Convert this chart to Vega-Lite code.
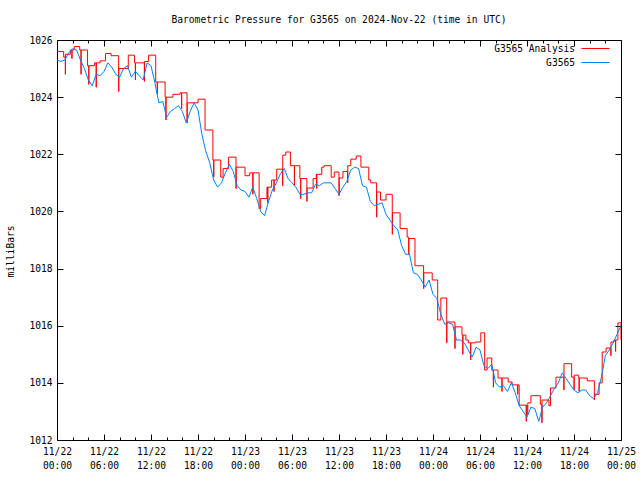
{
  "$schema": "https://vega.github.io/schema/vega-lite/v6.json",
  "width": 564,
  "height": 400,
  "autosize": {"type": "none"},
  "padding": {"left": 57, "top": 40, "right": 19, "bottom": 40},
  "title": {"text": "Barometric Pressure for G3565 on 2024-Nov-22 (time in UTC)", "font": "DejaVu Sans Mono", "fontSize": 9.6, "fontWeight": "normal", "anchor": "middle", "frame": "group", "baseline": "bottom", "offset": 0, "color": "black"},
  "datasets": {
    "obs": [
      {"h":0,"p":1025.3},{"h":0.5,"p":1025.25},{"h":1,"p":1025.3},{"h":1.5,"p":1025.55},{"h":2,"p":1025.7},{"h":2.5,"p":1025.65},{"h":3,"p":1025.3},{"h":3.5,"p":1025.0},{"h":4,"p":1024.6},{"h":4.5,"p":1024.4},{"h":5,"p":1024.8},{"h":5.5,"p":1024.75},{"h":6,"p":1024.9},{"h":6.5,"p":1025.2},{"h":7,"p":1025.05},{"h":7.5,"p":1024.8},{"h":8,"p":1024.7},{"h":8.5,"p":1025.0},{"h":9,"p":1025.1},{"h":9.5,"p":1024.7},{"h":10,"p":1024.9},{"h":10.5,"p":1024.75},{"h":11,"p":1024.6},{"h":11.5,"p":1025.2},{"h":12,"p":1025.1},
      {"h":12.5,"p":1024.5},{"h":13,"p":1023.8},{"h":13.5,"p":1023.85},{"h":14,"p":1023.3},{"h":14.5,"p":1023.5},{"h":15,"p":1023.6},{"h":15.5,"p":1023.7},{"h":16,"p":1023.5},{"h":16.5,"p":1023.1},{"h":17,"p":1023.5},{"h":17.5,"p":1023.8},{"h":18,"p":1023.55},{"h":18.5,"p":1022.7},{"h":19,"p":1022.1},{"h":19.5,"p":1021.7},{"h":20,"p":1021.1},{"h":20.5,"p":1020.85},{"h":21,"p":1021.0},{"h":21.5,"p":1021.35},{"h":22,"p":1021.65},{"h":22.5,"p":1021.4},{"h":23,"p":1020.9},{"h":23.5,"p":1020.75},{"h":24,"p":1020.7},
      {"h":24.5,"p":1020.5},{"h":25,"p":1020.85},{"h":25.5,"p":1020.45},{"h":26,"p":1020.0},{"h":26.5,"p":1019.85},{"h":27,"p":1020.35},{"h":27.5,"p":1020.75},{"h":28,"p":1021.0},{"h":28.5,"p":1021.3},{"h":29,"p":1021.5},{"h":29.5,"p":1021.15},{"h":30,"p":1021.0},{"h":30.5,"p":1020.85},{"h":31,"p":1020.6},{"h":31.5,"p":1020.6},{"h":32,"p":1020.65},{"h":32.5,"p":1020.65},{"h":33,"p":1020.95},{"h":33.5,"p":1020.9},{"h":34,"p":1021.0},{"h":34.5,"p":1021.0},{"h":35,"p":1021.0},{"h":35.5,"p":1020.8},{"h":36,"p":1020.6},
      {"h":36.5,"p":1020.85},{"h":37,"p":1021.05},{"h":37.5,"p":1021.45},{"h":38,"p":1021.55},{"h":38.5,"p":1021.5},{"h":39,"p":1020.9},{"h":39.5,"p":1020.85},{"h":40,"p":1020.35},{"h":40.5,"p":1020.2},{"h":41,"p":1020.25},{"h":41.5,"p":1020.3},{"h":42,"p":1019.9},{"h":42.5,"p":1019.7},{"h":43,"p":1019.5},{"h":43.5,"p":1019.35},{"h":44,"p":1018.8},{"h":44.5,"p":1018.5},{"h":45,"p":1018.5},{"h":45.5,"p":1017.85},{"h":46,"p":1017.8},{"h":46.5,"p":1017.6},{"h":47,"p":1017.35},{"h":47.5,"p":1017.6},{"h":48,"p":1017.1},
      {"h":48.5,"p":1016.95},{"h":49,"p":1016.4},{"h":49.5,"p":1016.05},{"h":50,"p":1016.1},{"h":50.5,"p":1016.05},{"h":51,"p":1015.5},{"h":51.5,"p":1015.5},{"h":52,"p":1015.4},{"h":52.5,"p":1015.15},{"h":53,"p":1014.9},{"h":53.5,"p":1015.25},{"h":54,"p":1015.15},{"h":54.5,"p":1014.6},{"h":55,"p":1014.5},{"h":55.5,"p":1014.65},{"h":56,"p":1014.0},{"h":56.5,"p":1013.85},{"h":57,"p":1013.9},{"h":57.5,"p":1013.7},{"h":58,"p":1014.0},{"h":58.5,"p":1013.65},{"h":59,"p":1013.2},{"h":59.5,"p":1013.0},{"h":60,"p":1012.8},
      {"h":60.5,"p":1013.15},{"h":61,"p":1013.1},{"h":61.5,"p":1012.65},{"h":62,"p":1013.15},{"h":62.5,"p":1013.3},{"h":63,"p":1013.55},{"h":63.5,"p":1013.8},{"h":64,"p":1014.0},{"h":64.5,"p":1014.35},{"h":65,"p":1014.15},{"h":65.5,"p":1013.95},{"h":66,"p":1013.75},{"h":66.5,"p":1013.65},{"h":67,"p":1013.75},{"h":67.5,"p":1013.75},{"h":68,"p":1013.55},{"h":68.5,"p":1013.45},{"h":69,"p":1013.65},{"h":69.5,"p":1014.2},{"h":70,"p":1014.95},{"h":70.5,"p":1015.15},{"h":71,"p":1015.4},{"h":71.5,"p":1015.7},{"h":72,"p":1016.0}
    ],
    "analysis": [
      {"h":0,"p":1025.6},{"h":0.85,"p":1025.4},{"h":1.06,"p":1024.8},{"h":1.08,"p":1025.5},{"h":1.7,"p":1025.65},{"h":1.9,"p":1025.35},{"h":1.92,"p":1025.65},{"h":2.2,"p":1025.77},{"h":2.9,"p":1025.65},{"h":3.06,"p":1024.8},{"h":3.08,"p":1025.65},{"h":3.9,"p":1025.1},{"h":4.05,"p":1024.45},{"h":4.07,"p":1025.1},{"h":4.8,"p":1025.2},{"h":5.0,"p":1024.35},{"h":5.02,"p":1025.2},{"h":5.5,"p":1025.27},{"h":6.2,"p":1025.53},{"h":6.9,"p":1025.45},{"h":7.87,"p":1024.2},{"h":7.89,"p":1025.0},{"h":9.1,"p":1025.47},{"h":9.9,"p":1025.2},{"h":10.0,"p":1024.6},{"h":10.02,"p":1025.2},{"h":11.15,"p":1024.55},{"h":11.17,"p":1025.25},{"h":11.7,"p":1025.47},
      {"h":12.6,"p":1024.53},{"h":12.8,"p":1024.1},{"h":12.82,"p":1024.53},{"h":13.8,"p":1024.0},{"h":13.9,"p":1023.2},{"h":13.92,"p":1024.0},{"h":14.8,"p":1024.1},{"h":15.7,"p":1024.15},{"h":15.9,"p":1023.6},{"h":15.92,"p":1024.15},{"h":16.6,"p":1023.1},{"h":16.62,"p":1023.8},{"h":18.0,"p":1023.93},{"h":18.9,"p":1022.85},{"h":19.9,"p":1021.8},{"h":20.0,"p":1021.2},{"h":20.02,"p":1021.8},{"h":20.9,"p":1021.2},{"h":21.2,"p":1021.5},{"h":21.9,"p":1021.9},{"h":22.85,"p":1020.8},{"h":22.87,"p":1021.55},
      {"h":24.0,"p":1021.25},{"h":24.6,"p":1021.35},{"h":25.0,"p":1020.6},{"h":25.02,"p":1021.35},{"h":25.8,"p":1020.1},{"h":26.0,"p":1020.45},{"h":26.8,"p":1020.85},{"h":26.9,"p":1020.3},{"h":26.92,"p":1020.85},{"h":27.4,"p":1021.1},{"h":27.7,"p":1020.7},{"h":27.72,"p":1021.1},{"h":28.05,"p":1021.48},{"h":28.8,"p":1020.9},{"h":28.82,"p":1021.97},{"h":29.2,"p":1022.08},{"h":29.8,"p":1021.6},{"h":30.3,"p":1020.9},{"h":30.32,"p":1021.6},{"h":31.0,"p":1021.15},{"h":31.1,"p":1020.45},{"h":31.12,"p":1021.15},{"h":31.9,"p":1020.35},{"h":31.92,"p":1020.82},{"h":32.7,"p":1021.15},{"h":33.1,"p":1021.3},{"h":33.15,"p":1020.8},{"h":33.17,"p":1021.3},{"h":33.8,"p":1021.55},{"h":34.1,"p":1021.6},{"h":35.0,"p":1021.2},{"h":35.4,"p":1021.38},
      {"h":36.0,"p":1020.55},{"h":36.02,"p":1021.17},{"h":36.5,"p":1021.4},{"h":37.1,"p":1021.0},{"h":37.12,"p":1021.6},{"h":37.5,"p":1021.83},{"h":38.2,"p":1021.94},{"h":38.8,"p":1021.55},{"h":39.8,"p":1021.1},{"h":40.05,"p":1021.0},{"h":40.8,"p":1019.8},{"h":40.82,"p":1020.68},{"h":41.3,"p":1020.4},{"h":42.0,"p":1020.6},{"h":42.8,"p":1019.2},{"h":42.82,"p":1019.95},{"h":43.8,"p":1019.4},{"h":44.7,"p":1019.1},{"h":44.9,"p":1018.5},{"h":44.92,"p":1019.05},{"h":45.7,"p":1018.1},{"h":46.8,"p":1017.3},{"h":46.82,"p":1017.85},{"h":47.9,"p":1017.6},
      {"h":48.6,"p":1016.2},{"h":49.0,"p":1016.97},{"h":49.75,"p":1015.4},{"h":49.77,"p":1016.13},{"h":50.8,"p":1015.2},{"h":50.82,"p":1015.96},{"h":51.7,"p":1015.67},{"h":51.8,"p":1015.0},{"h":51.82,"p":1015.67},{"h":52.2,"p":1015.5},{"h":52.5,"p":1015.4},{"h":52.8,"p":1014.8},{"h":52.82,"p":1015.4},{"h":53.4,"p":1015.43},{"h":54.1,"p":1015.75},{"h":54.6,"p":1014.45},{"h":54.9,"p":1014.87},{"h":55.5,"p":1014.45},{"h":55.7,"p":1013.85},{"h":55.72,"p":1014.45},{"h":56.3,"p":1014.17},{"h":56.8,"p":1013.7},{"h":56.82,"p":1014.17},{"h":57.6,"p":1014.03},{"h":58.1,"p":1013.93},{"h":58.8,"p":1013.6},{"h":58.82,"p":1013.93},{"h":59.0,"p":1013.22},{"h":59.9,"p":1012.65},{"h":59.92,"p":1013.22},
      {"h":60.0,"p":1012.9},{"h":60.1,"p":1013.3},{"h":60.5,"p":1013.55},{"h":61.7,"p":1013.25},{"h":61.9,"p":1012.6},{"h":61.92,"p":1013.4},{"h":62.8,"p":1013.2},{"h":63.0,"p":1013.82},{"h":63.7,"p":1014.2},{"h":64.7,"p":1013.75},{"h":64.72,"p":1014.67},{"h":65.7,"p":1014.2},{"h":66.0,"p":1013.75},{"h":66.02,"p":1014.27},{"h":66.6,"p":1014.17},{"h":66.65,"p":1013.7},{"h":66.67,"p":1014.17},{"h":67.7,"p":1014.07},{"h":68.6,"p":1013.4},{"h":68.62,"p":1013.6},{"h":69.2,"p":1014.0},{"h":69.6,"p":1015.08},{"h":70.1,"p":1015.22},{"h":70.7,"p":1014.95},{"h":70.72,"p":1015.43},{"h":71.1,"p":1015.5},{"h":71.3,"p":1015.1},{"h":71.32,"p":1015.5},{"h":71.6,"p":1016.1},{"h":72.0,"p":1015.5}
    ]
  },
  "layer": [
    {
      "data": {"name": "analysis"},
      "mark": {"type": "line", "interpolate": "step-after", "strokeWidth": 1, "clip": true},
      "encoding": {
        "x": {"field": "h", "type": "quantitative", "scale": {"domain": [0, 72], "nice": false, "zero": false},
          "axis": {"orient": "top", "title": null, "labels": false, "values": [0,2,4,6,8,10,12,14,16,18,20,22,24,26,28,30,32,34,36,38,40,42,44,46,48,50,52,54,56,58,60,62,64,66,68,70,72],
            "tickSize": {"condition": {"test": "datum.value % 6 === 0", "value": -6}, "value": -3}}},
        "y": {"field": "p", "type": "quantitative", "scale": {"domain": [1012, 1026], "nice": false, "zero": false},
          "axis": {"orient": "right", "title": null, "labels": false, "values": [1012,1014,1016,1018,1020,1022,1024,1026], "tickSize": -6}},
        "color": {"datum": "G3565 Analysis", "type": "nominal",
          "scale": {"domain": ["G3565 Analysis", "G3565"], "range": ["#ff0000", "#0080ff"]},
          "legend": {"orient": "top-right", "offset": 1, "title": null, "symbolType": "M-2,0H2M3.14,0", "symbolSize": 196, "symbolStrokeWidth": 1, "labelAlign": "right", "labelOffset": -28, "labelFont": "DejaVu Sans Mono", "labelFontSize": 9.6, "labelColor": "black", "rowPadding": 1, "padding": 0}}
      }
    },
    {
      "data": {"name": "obs"},
      "mark": {"type": "line", "strokeWidth": 1, "clip": true},
      "encoding": {
        "x": {"field": "h", "type": "quantitative", "scale": {"domain": [0, 72], "nice": false, "zero": false},
          "axis": {"orient": "bottom", "title": null, "values": [0,2,4,6,8,10,12,14,16,18,20,22,24,26,28,30,32,34,36,38,40,42,44,46,48,50,52,54,56,58,60,62,64,66,68,70,72],
            "tickSize": {"condition": {"test": "datum.value % 6 === 0", "value": -6}, "value": -3},
            "labelExpr": "datum.value % 6 === 0 ? ['11/' + (22 + floor(datum.value / 24)), ((datum.value % 24) < 10 ? '0' : '') + (datum.value % 24) + ':00'] : ''",
            "labelPadding": 12, "labelLineHeight": 14, "labelOverlap": false, "labelFlush": false, "labelBound": false}},
        "y": {"field": "p", "type": "quantitative", "scale": {"domain": [1012, 1026], "nice": false, "zero": false},
          "axis": {"orient": "left", "title": "milliBars", "format": "d", "values": [1012,1014,1016,1018,1020,1022,1024,1026], "tickSize": -6, "labelPadding": 11,
            "titleX": -47, "titleY": 211, "titleAngle": -90, "titleAlign": "center", "titleBaseline": "middle"}},
        "color": {"datum": "G3565", "type": "nominal"}
      }
    }
  ],
  "resolve": {"axis": {"x": "independent", "y": "independent"}},
  "config": {
    "background": "white",
    "view": {"stroke": "black", "strokeWidth": 1},
    "axis": {"domain": false, "grid": false, "tickColor": "black", "tickWidth": 1, "labelColor": "black", "labelFont": "DejaVu Sans Mono", "labelFontSize": 9.6, "titleFont": "DejaVu Sans Mono", "titleFontSize": 9.6, "titleFontWeight": "normal", "titleColor": "black"}
  }
}
